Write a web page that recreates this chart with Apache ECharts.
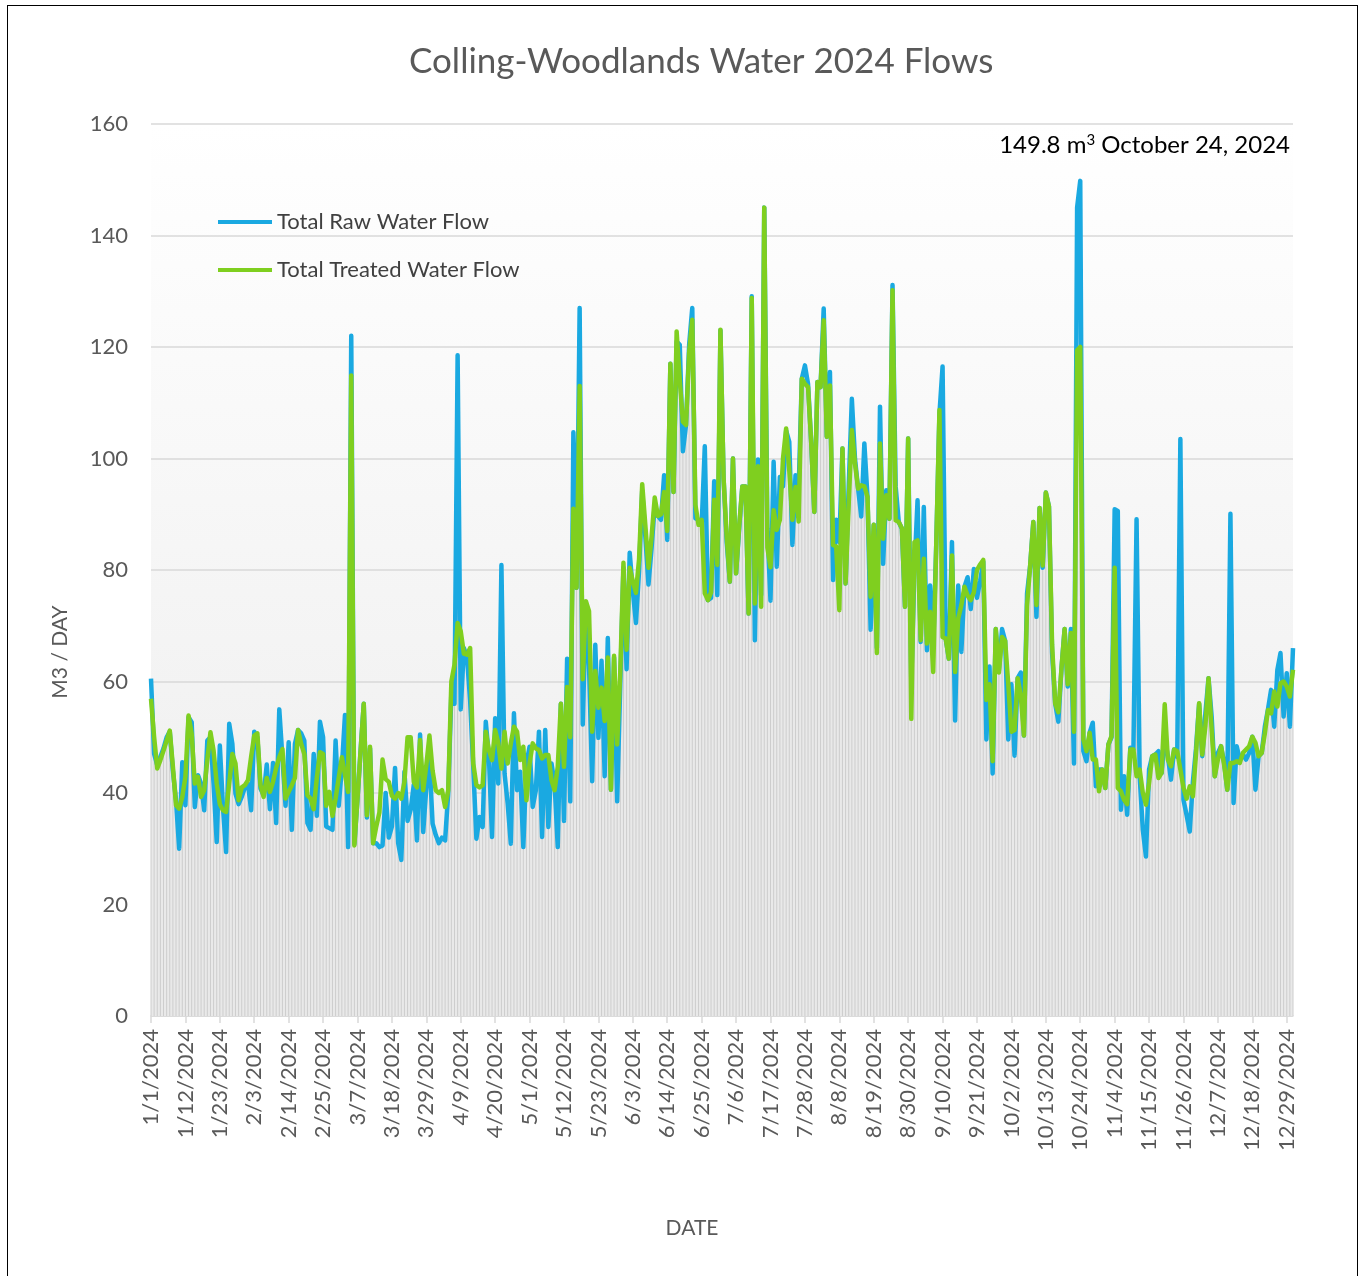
<!DOCTYPE html>
<html>
<head>
<meta charset="utf-8">
<script src="https://cdn.jsdelivr.net/npm/echarts@6/dist/echarts.min.js"></script>
<style>
html,body{margin:0;padding:0;background:#fff;}
#chart{position:absolute;left:0;top:0;width:1363px;height:1276px;}
#frame{position:absolute;left:7px;top:5px;width:1349px;height:1300px;border:1px solid #000;pointer-events:none;}
</style>
</head>
<body>
<div id="chart"></div>
<div id="frame"></div>
<script>
// Daily flows, m3/day, 2024 (366 days)
const rawJan = [60.5,47,45,46.5,48,50,51,44,38.7,30,45.5,37.8,53.6,52.7,37.5,43.2,41.7,36.9,49.4,50,41.7,31.2,48.5,37.5,29.4,52.4,48.8,39.9,38,39.3,41];
const rawFeb = [41.7,36.9,51,50,40.8,39.6,45.1,37.1,45.4,34.6,55,46.4,37.7,49.1,33.4,48.8,51.3,50.7,49.4,34.6,33.4,47,35.9,52.8,50,34,33.7,33.4,49.4];
const rawMar = [37.7,44.5,54,30.3,122,30.9,39,47.7,56,35.6,48,31,31,30.3,30.6,40,32,34,44.5,31,28,43.8,35,37,41.5,31.5,50.5,33,41,46,34.5];
const rawApr = [32.5,31,32,31.5,40,58,56,118.5,55,66,64.4,56.6,44.7,31.8,35.7,33.9,52.8,46.5,32.1,53.4,41.7,80.9,43.5,38.1,30.9,54.3,40.5,43.8,30.3,45.3];
const rawMay = [48.3,37.5,40.5,51,32.1,51.3,33.9,45.3,41.7,30.3,56,35,64.1,38.5,104.7,76.8,127,52.3,74,62.8,42.1,66.6,49.9,63.7,43,67.8,40.6,64.3,38.5,60,80.4];
const rawJun = [62.2,83.1,76.2,70.5,80,94.2,86,77.4,84,91.8,89.7,89,97,85.4,117,94,121,120.4,101.3,106,120.4,127,89.3,89,88,102.2,74.6,75,95.9,75.5];
const rawJul = [123,96.5,85,77.9,100,79.4,87.5,95,95,72.2,129.1,67.4,99.8,75.5,145,87.5,74.5,99.4,80.6,96.7,95,105,103,84.5,97,94.3,114.3,116.7,113.4,103,90.4];
const rawAug = [113.7,112.8,126.9,103.9,115.5,78.2,89,85,101.8,77.6,95,110.7,100,94.6,89.6,102.7,93.1,69.3,88.1,66,109.3,81.1,94.3,89.2,131.1,95,88.6,87.4,73.4,103.6,60];
const rawSep = [80,92.5,67.1,91.3,65.6,77.2,66,85,108,116.5,67.7,64.1,85,53,77.2,65.3,77,78.7,73,80.2,75,78,81.5,49.6,62.7,43.5,69.4,62,69.4,67.3];
const rawOct = [49.6,59.5,46.7,60.6,61.6,50.3,75.8,80.8,88.6,71.6,91.1,80.4,93.9,91.4,65.2,56,52.8,62.3,69.4,59.1,69.4,45.3,145,149.8,47.5,45.7,50.8,52.6,41.2,44.2,44.2];
const rawNov = [40.9,48.7,50,90.9,90.6,37,43,36.1,48.1,47.8,89.1,43,33.4,28.6,44.2,46.6,46.9,47.5,43.6,50,46.6,42.4,47.8,46.5,103.5,38.8,36,33.1,42,48];
const rawDec = [56,46.6,54.3,60.6,53.7,43,47.2,48.4,45.4,40.6,90.1,38.2,48.4,46,46.9,46,47.2,50.1,40.6,46.6,47.2,51.9,55,58.5,51.9,62.1,65.1,53.7,61.5,51.9,66];

const trtJan = [56.9,50,44.4,45.9,47.6,49.4,51.2,44.7,37.8,37.2,39.3,42.9,53.9,50.6,41.7,42.9,39.3,40.5,45.9,50.9,47.6,41.7,38,36.9,36.6,41.7,47,45.3,38.7,41,41.4];
const trtFeb = [42.3,46.5,50.3,50.7,41.4,39.3,42.7,40.2,42,44.5,46.4,47.9,39,40.2,41.4,42.7,51.3,48.8,47,39.6,39,37.1,42.7,47.3,47,37.7,40.2,35.9,39];
const trtMar = [42.7,46.4,43.3,40.2,114.9,30.6,39,47.7,56,36,48.3,31,34,36.5,46,42.5,42,39.5,39,40,39,42,50,50,42,41,49.5,40.5,45,50.3,44];
const trtApr = [40.5,40,40.5,37.5,40.5,60,63,70.5,69,65,64.8,66,45.3,41.4,41,41.4,51,47.7,45.9,51.3,48.9,44.4,51,45.3,48.9,51.9,51,45.9,48.3,38.7];
const trtMay = [45.3,48.9,48,47.7,46.2,46.8,46.8,42.3,40.5,44.7,56,44.7,59,50,91,76.8,113,60.4,74.4,72.6,51,61.9,55.3,58.9,52.9,64.3,40.6,64.6,48.7,62,81.3];
const trtJun = [65.7,80.4,78,75.9,82,95.4,88,80.4,86,93,89.7,90,94,87,117,94,122.8,114,106.6,106,119,124.9,91.7,88.1,89,75.8,74.6,76,92.6,80.9];
const trtJul = [123.1,96.5,86,77.9,100,79.4,88,95,95,72.2,128.8,74,98.6,73.4,145,84,80.5,90.7,87.2,89,100,105.4,97.9,89,94.9,88.7,114.3,113.4,112.8,103,90.4];
const trtAug = [113.7,112.8,124.8,103.9,113.1,84.5,84.2,72.8,101.8,77.6,92,105.1,99.1,94.6,95.2,95,93.1,75.2,88.1,65.1,102.7,85.6,93.4,89.2,130.2,88.9,88.6,87.5,73.4,103.6,53.3];
const trtSep = [85,85.3,67.4,82,66.8,72.5,61.7,85,108.7,68,67.7,64.1,82.6,61.7,71.3,73.7,77,75.4,74.6,76,80,81,81.8,56.7,59.5,45.7,69.4,61.6,68,67.3];
const trtOct = [59.5,51,51.3,60.6,57.4,50.3,73.7,80.8,88.6,73.7,91.1,80.8,93.9,91.4,66.6,56,54.5,62.3,69.4,59.5,68.7,51,119.4,120,49.6,47.5,50.8,46,46,40.3,44.2];
const trtNov = [40.9,48.7,50.2,80.4,40.9,40.3,38.8,38,47.8,47.8,43,44.2,40,37.9,41.8,46.6,46.9,42.7,43.6,55.9,46,44.8,47.8,47.5,44.2,40.9,39,41.2,39.4,47];
const trtDec = [56.1,46.9,52,60.6,51.3,43,46,48.4,45,40.6,45.4,45.4,45.7,45.4,47.2,47.8,48.4,50.1,49,46.6,47.2,50.7,54.9,54.3,58.2,55.5,59.7,60,59.1,57.3,62.1];

const rawFlow = [].concat(rawJan,rawFeb,rawMar,rawApr,rawMay,rawJun,rawJul,rawAug,rawSep,rawOct,rawNov,rawDec);
const treatedFlow = [].concat(trtJan,trtFeb,trtMar,trtApr,trtMay,trtJun,trtJul,trtAug,trtSep,trtOct,trtNov,trtDec);

// Category labels: every day of 2024, m/d/yyyy
const dates = [];
for (let i = 0; i < 366; i++) {
  const dt = new Date(2024, 0, 1 + i);
  dates.push((dt.getMonth() + 1) + '/' + dt.getDate() + '/2024');
}

const FONT = 'Lato, "Open Sans", sans-serif';
const chart = echarts.init(document.getElementById('chart'), null, {renderer: 'canvas'});
chart.setOption({
  backgroundColor: '#ffffff',
  animation: false,
  title: {
    text: 'Colling-Woodlands Water 2024 Flows',
    left: 404,
    top: 39,
    textStyle: {fontFamily: FONT, fontSize: 35, fontWeight: 'normal', color: '#595959'}
  },
  legend: {
    data: ['Total Raw Water Flow', 'Total Treated Water Flow'],
    orient: 'vertical',
    left: 218,
    top: 211,
    itemWidth: 54,
    itemHeight: 4,
    itemGap: 26,
    icon: 'rect',
    padding: 0,
    textStyle: {fontFamily: FONT, fontSize: 22, color: '#404040'}
  },
  grid: {
    left: 151, right: 70, top: 124, bottom: 260,
    show: true,
    borderWidth: 0,
    backgroundColor: new echarts.graphic.LinearGradient(0, 0, 0, 1, [
      {offset: 0, color: '#ffffff'},
      {offset: 1, color: '#ececec'}
    ])
  },
  xAxis: {
    type: 'category',
    data: dates,
    boundaryGap: false,
    axisLine: {lineStyle: {color: '#d9d9d9', width: 1.5}},
    axisTick: {show: true, interval: 10, length: 7, lineStyle: {color: '#d9d9d9', width: 1.5}},
    axisLabel: {interval: 10, rotate: 90, margin: 13, fontFamily: FONT, fontSize: 22, color: '#595959'},
    splitLine: {show: false}
  },
  yAxis: {
    type: 'value',
    min: 0, max: 160, interval: 20,
    axisLine: {show: false},
    axisTick: {show: false},
    axisLabel: {margin: 23, fontFamily: FONT, fontSize: 22, color: '#595959'},
    splitLine: {lineStyle: {color: '#d9d9d9', width: 1.5}}
  },
  graphic: [
    {
      type: 'text',
      right: 73,
      top: 133,
      style: {
        text: '{a|149.8 m}{s|3}{a| October 24, 2024}',
        rich: {
          a: {fontFamily: FONT, fontSize: 24, fill: '#000', color: '#000'},
          s: {fontFamily: FONT, fontSize: 15, fill: '#000', color: '#000', padding: [0, 0, 10, 0]}
        }
      }
    },
    {
      type: 'text',
      x: 60, y: 652,
      rotation: Math.PI / 2,
      style: {
        text: 'M3 / DAY',
        fontFamily: FONT, fontSize: 21, fill: '#595959',
        textAlign: 'center', textVerticalAlign: 'middle'
      }
    },
    {
      type: 'text',
      x: 692, y: 1228,
      style: {
        text: 'DATE',
        fontFamily: FONT, fontSize: 21, fill: '#595959',
        textAlign: 'center', textVerticalAlign: 'middle'
      }
    }
  ],
  series: [
    {
      name: 'fill', type: 'line', data: rawFlow, silent: true, z: 1,
      showSymbol: false, lineStyle: {width: 0}, itemStyle: {color: '#e9e9e9'},
      areaStyle: {color: '#e9e9e9', opacity: 1}
    },
    {
      name: 'hatch', type: 'bar', data: rawFlow, silent: true, z: 2,
      barWidth: 1, itemStyle: {color: '#cdcdcd'}
    },
    {
      name: 'Total Raw Water Flow', type: 'line', data: rawFlow, z: 3,
      showSymbol: false, itemStyle: {color: '#1aa9e1'},
      lineStyle: {color: '#1aa9e1', width: 4.5, join: 'round'}
    },
    {
      name: 'Total Treated Water Flow', type: 'line', data: treatedFlow, z: 4,
      showSymbol: false, itemStyle: {color: '#7fcf1f'},
      lineStyle: {color: '#7fcf1f', width: 4.5, join: 'round'}
    }
  ]
});
</script>
</body>
</html>
